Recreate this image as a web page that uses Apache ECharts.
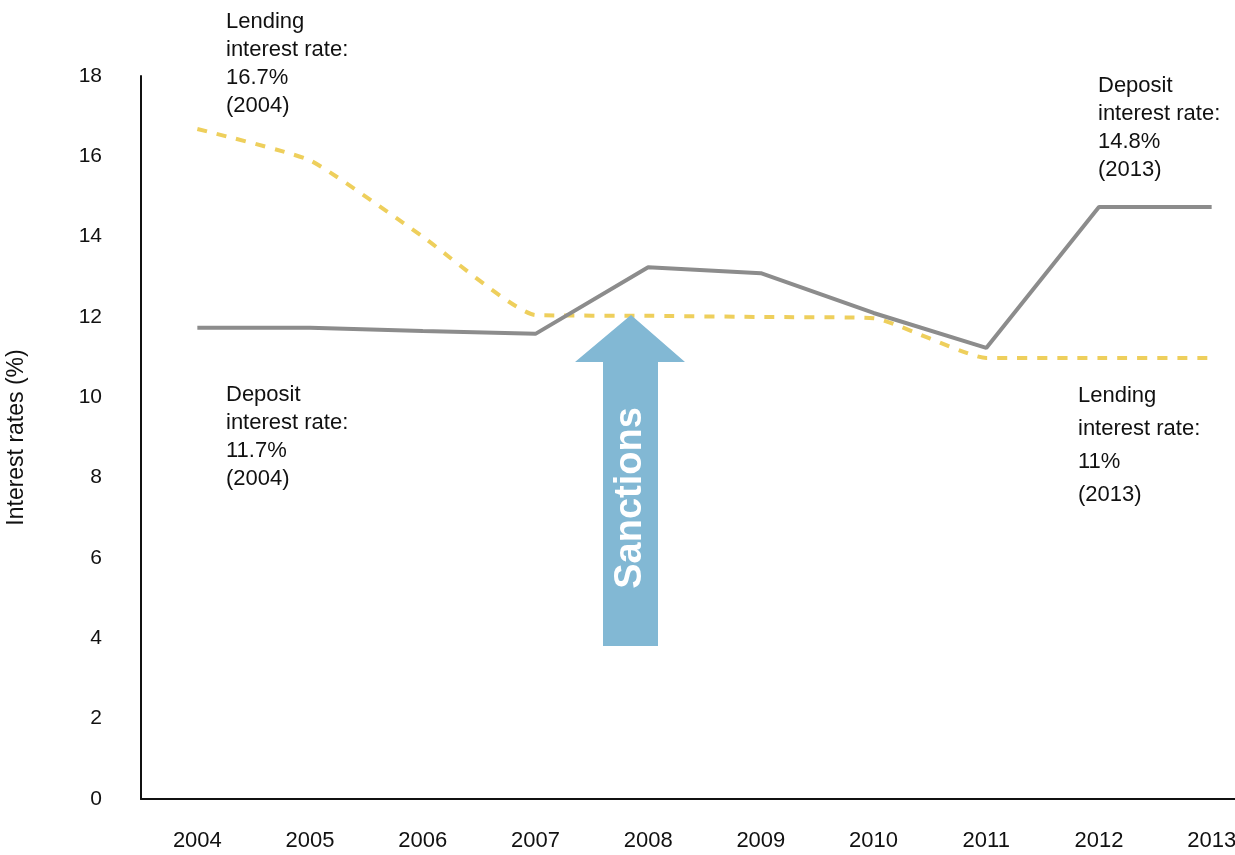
<!DOCTYPE html>
<html>
<head>
<meta charset="utf-8">
<title>Interest rates</title>
<script src="https://cdn.jsdelivr.net/npm/echarts@6/dist/echarts.min.js"></script>
<style>
    html, body { margin: 0; padding: 0; background: #fff; }
    #chart { width: 1235px; height: 855px; }
</style>
</head>
<body>
<div id="chart"></div>
<script>
// data
const years = ['2004', '2005', '2006', '2007', '2008', '2009', '2010', '2011', '2012', '2013']
const depositRate = [11.73, 11.73, 11.65, 11.58, 13.24, 13.09, 12.1, 11.23, 14.74, 14.74]
const lendingRate = [16.68, 15.9, 14.0, 12.05, 12.03, 12.0, 11.97, 10.98, 10.98, 10.98]
const yTicks = [0, 2, 4, 6, 8, 10, 12, 14, 16, 18]

const FONT = '"Liberation Sans", Arial, Helvetica, sans-serif'

// little text blocks next to the lines
const notes = [
    { x: 226, y: 8, lh: 28, lines: ['Lending', 'interest rate:', '16.7%', '(2004)'] },
    { x: 1098, y: 72, lh: 28, lines: ['Deposit', 'interest rate:', '14.8%', '(2013)'] },
    { x: 226, y: 381, lh: 28, lines: ['Deposit', 'interest rate:', '11.7%', '(2004)'] },
    { x: 1078, y: 379, lh: 33, lines: ['Lending', 'interest rate:', '11%', '(2013)'] }
]

let myChart = echarts.init(document.getElementById('chart'))

const graphics = notes.map(n => ({
    type: 'text',
    left: n.x,
    top: n.y,
    style: {
        text: n.lines.join('\n'),
        font: '22px ' + FONT,
        lineHeight: n.lh,
        fill: '#111'
    },
    z: 10
}))

// sanctions arrow
graphics.push({
    type: 'polygon',
    shape: {
        points: [[603, 646], [658, 646], [658, 362], [685, 362], [631, 315], [575, 362], [603, 362]]
    },
    style: { fill: '#82b8d4' },
    z: 5
})
graphics.push({
    type: 'text',
    x: 631,
    y: 498,
    rotation: Math.PI / 2,
    style: {
        text: 'Sanctions',
        font: 'bold 38px ' + FONT,
        fill: '#fff',
        align: 'center',
        verticalAlign: 'middle'
    },
    z: 6
})

myChart.setOption({
    animation: false,
    textStyle: { fontFamily: FONT },
    grid: {
        left: 141,
        top: 76,
        width: 1127,
        bottom: 56,
        containLabel: false,
        outerBoundsMode: 'none'
    },
    xAxis: {
        type: 'category',
        data: years,
        boundaryGap: true,
        axisLine: { lineStyle: { color: '#111', width: 2 } },
        axisTick: { show: false },
        axisLabel: { color: '#111', fontSize: 22, margin: 31, interval: 0 }
    },
    yAxis: {
        type: 'value',
        min: yTicks[0],
        max: yTicks[yTicks.length - 1],
        interval: 2,
        name: 'Interest rates (%)',
        nameLocation: 'middle',
        nameGap: 113,
        nameTextStyle: { color: '#111', fontSize: 23 },
        axisLine: { show: true, lineStyle: { color: '#111', width: 2 } },
        axisTick: { show: false },
        splitLine: { show: false },
        axisLabel: {
            color: '#111',
            fontSize: 21,
            margin: 39,
            padding: [0, 0, 8, 0]
        }
    },
    series: [
        {
            name: 'Deposit interest rate',
            type: 'line',
            data: depositRate,
            showSymbol: false,
            lineStyle: { color: '#8c8c8c', width: 4 },
            z: 3
        },
        {
            name: 'Lending interest rate',
            type: 'line',
            data: lendingRate,
            showSymbol: false,
            smooth: 0.15,
            lineStyle: { color: '#eecf5c', width: 4, type: [10, 10] },
            z: 2
        }
    ],
    graphic: graphics
})
</script>
</body>
</html>
